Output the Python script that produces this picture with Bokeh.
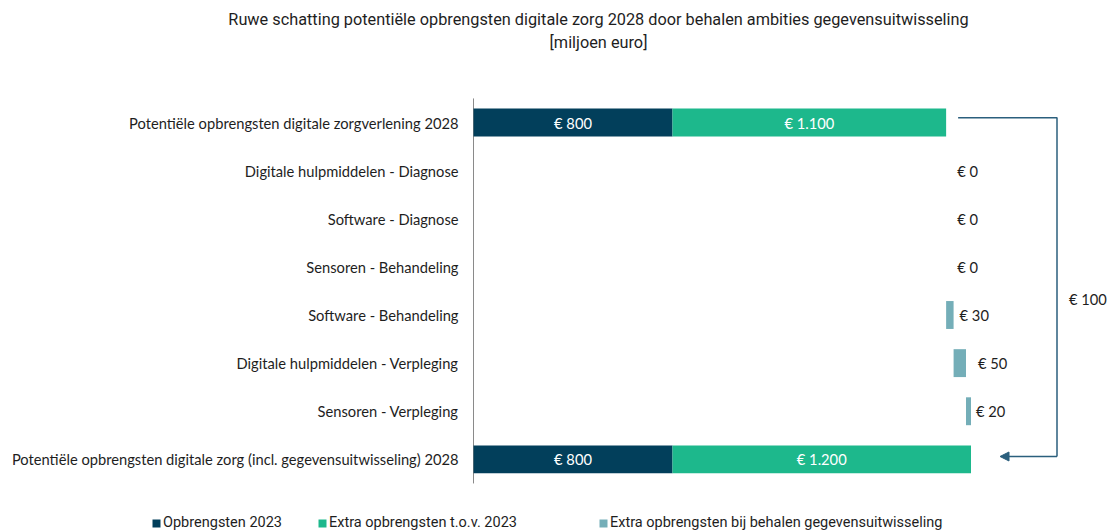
from bokeh.plotting import figure
from bokeh.models import (Range1d, Legend, LegendItem, Arrow, NormalHead,
                          ColumnDataSource, Label)
from bokeh.core.properties import value
from bokeh.embed import file_html
from bokeh.resources import INLINE

# ---------------- data ----------------
title_line1 = "Ruwe schatting potentiële opbrengsten digitale zorg 2028 door behalen ambities gegevensuitwisseling"
title_line2 = "[miljoen euro]"
categories = [
    "Potentiële opbrengsten digitale zorgverlening 2028",
    "Digitale hulpmiddelen - Diagnose",
    "Software - Diagnose",
    "Sensoren - Behandeling",
    "Software - Behandeling",
    "Digitale hulpmiddelen - Verpleging",
    "Sensoren - Verpleging",
    "Potentiële opbrengsten digitale zorg (incl. gegevensuitwisseling) 2028",
]
revenue_2023 = [800, 0, 0, 0, 0, 0, 0, 800]
extra_vs_2023 = [1100, 0, 0, 0, 0, 0, 0, 1200]
extra_exchange = [0, 0, 0, 0, 30, 50, 20, 0]
legend_labels = ["Opbrengsten 2023", "Extra opbrengsten t.o.v. 2023",
                 "Extra opbrengsten bij behalen gegevensuitwisseling"]

# ---------------- style / layout ----------------
C_DARK = "#023f5b"
C_GREEN = "#1db88c"
C_TEAL = "#74aeb8"
C_ARROW = "#2b5f7d"
C_AXIS = "#8a8a8a"
C_TEXT = "#1e1e1e"
LABEL_FONT = "Lato"
LABEL_SIZE = "14.7px"
TITLE_FONT = "Roboto"
inc_label_pad_px = [11, 11, 11, 6, 12, 5]  # gap between step end and its label

W, HGT = 1109, 531
AXIS_X_PX = 473          # where value 0 sits
ROW0_Y_PX = 122          # centre of first row
ROW_PX = 48.125          # row pitch
PX_PER_UNIT = 199 / 800.0

def eur(v):
    return "€ " + f"{v:,}".replace(",", ".")

n = len(categories)
first, last = 0, n - 1
row_y = [-i for i in range(n)]   # rows downwards

tot_rows = [first, last]
dark = ColumnDataSource(dict(
    y=[row_y[i] for i in tot_rows],
    left=[0 for i in tot_rows],
    right=[revenue_2023[i] for i in tot_rows],
))
green = ColumnDataSource(dict(
    y=[row_y[i] for i in tot_rows],
    left=[revenue_2023[i] for i in tot_rows],
    right=[revenue_2023[i] + extra_vs_2023[i] for i in tot_rows],
))

running = revenue_2023[first] + extra_vs_2023[first]
t_y, t_left, t_right, t_text = [], [], [], []
for i in range(1, n - 1):
    t_y.append(row_y[i])
    t_left.append(running)
    running += extra_exchange[i]
    t_right.append(running)
    t_text.append(eur(extra_exchange[i]))
teal = ColumnDataSource(dict(y=t_y, left=t_left, right=t_right, text=t_text,
                             xo=inc_label_pad_px))

x_range = Range1d(-AXIS_X_PX / PX_PER_UNIT, (W - AXIS_X_PX) / PX_PER_UNIT)
y_range = Range1d(-(HGT - ROW0_Y_PX) / ROW_PX, ROW0_Y_PX / ROW_PX)

p = figure(width=W, height=HGT, output_backend="svg", toolbar_location=None,
           x_range=x_range, y_range=y_range,
           x_axis_location=None, y_axis_location=None, min_border=0)
p.outline_line_color = None
p.grid.grid_line_color = None
p.background_fill_color = "white"
p.border_fill_color = "white"

# category axis: line at value 0 and labels placed by the row scale
p.line(x=[0, 0], y=[row_y[first] + 0.5, row_y[last] - 0.5], line_color=C_AXIS,
       line_width=1)
p.text(x=[0] * n, y=row_y, text=categories, x_offset=-15, text_align="right",
       text_baseline="middle", text_color=C_TEXT, text_font=value(LABEL_FONT),
       text_font_size=LABEL_SIZE)

H = 0.58
r_dark = p.hbar(y="y", left="left", right="right", height=H, source=dark,
                fill_color=C_DARK, line_color=None)
r_green = p.hbar(y="y", left="left", right="right", height=H, source=green,
                 fill_color=C_GREEN, line_color=None)
r_teal = p.hbar(y="y", left="left", right="right", height=H, source=teal,
                fill_color=C_TEAL, line_color=None)

in_x, in_y, in_t = [], [], []
for src in (dark, green):
    d = src.data
    for y, l, r in zip(d["y"], d["left"], d["right"]):
        in_x.append((l + r) / 2)
        in_y.append(y)
        in_t.append(eur(r - l))
p.text(x=in_x, y=in_y, text=in_t, text_color="white", text_align="center",
       text_baseline="middle", text_font=value(LABEL_FONT), text_font_size=LABEL_SIZE)

p.text(x="right", y="y", text="text", x_offset="xo", source=teal, text_color=C_TEXT,
       text_align="left", text_baseline="middle", text_font=value(LABEL_FONT),
       text_font_size=LABEL_SIZE)

# bracket arrow from first total to last total
top_total = revenue_2023[first] + extra_vs_2023[first]
end_total = revenue_2023[last] + extra_vs_2023[last]
y_top = row_y[first] + 0.10
y_bot = row_y[last] + 0.06
x_start = top_total + 12 / PX_PER_UNIT
x_corner = end_total + 86 / PX_PER_UNIT
x_tip = end_total + 29 / PX_PER_UNIT
p.line(x=[x_start, x_corner, x_corner], y=[y_top, y_top, y_bot],
       line_color=C_ARROW, line_width=1.5)
p.add_layout(Arrow(end=NormalHead(size=9, fill_color=C_ARROW, line_color=C_ARROW),
                   x_start=x_corner, y_start=y_bot, x_end=x_tip, y_end=y_bot,
                   line_color=C_ARROW, line_width=1.5))
delta = end_total - top_total
p.text(x=[x_corner + 12 / PX_PER_UNIT], y=[(row_y[3] + row_y[4]) / 2 - 0.16],
       text=[eur(delta)], text_color=C_TEXT, text_align="left",
       text_baseline="middle", text_font=value(LABEL_FONT), text_font_size=LABEL_SIZE)

# title (screen px, frame == canvas, y from bottom)
for txt, yy in ((title_line1, 19), (title_line2, 42)):
    p.add_layout(Label(x=598, y=HGT - yy, x_units="screen", y_units="screen",
                       text=txt, text_align="center", text_baseline="middle",
                       text_font=TITLE_FONT, text_font_size="16.3px",
                       text_color=C_TEXT))

# legend
common = dict(orientation="horizontal", padding=0, margin=0,
              glyph_width=10, glyph_height=10, label_standoff=2,
              border_line_color=None, background_fill_alpha=0,
              label_text_font=TITLE_FONT, label_text_font_size="14.5px",
              label_text_color=C_TEXT)
lg_a = Legend(items=[LegendItem(label=legend_labels[0], renderers=[r_dark]),
                     LegendItem(label=legend_labels[1], renderers=[r_green])],
              location=(151, 0), spacing=24, label_width=130, **common)
lg_b = Legend(items=[LegendItem(label=legend_labels[2], renderers=[r_teal])],
              location=(598, 0), spacing=0, **common)
p.add_layout(lg_a)
p.add_layout(lg_b)

open("out.html", "w").write(file_html(p, INLINE))
